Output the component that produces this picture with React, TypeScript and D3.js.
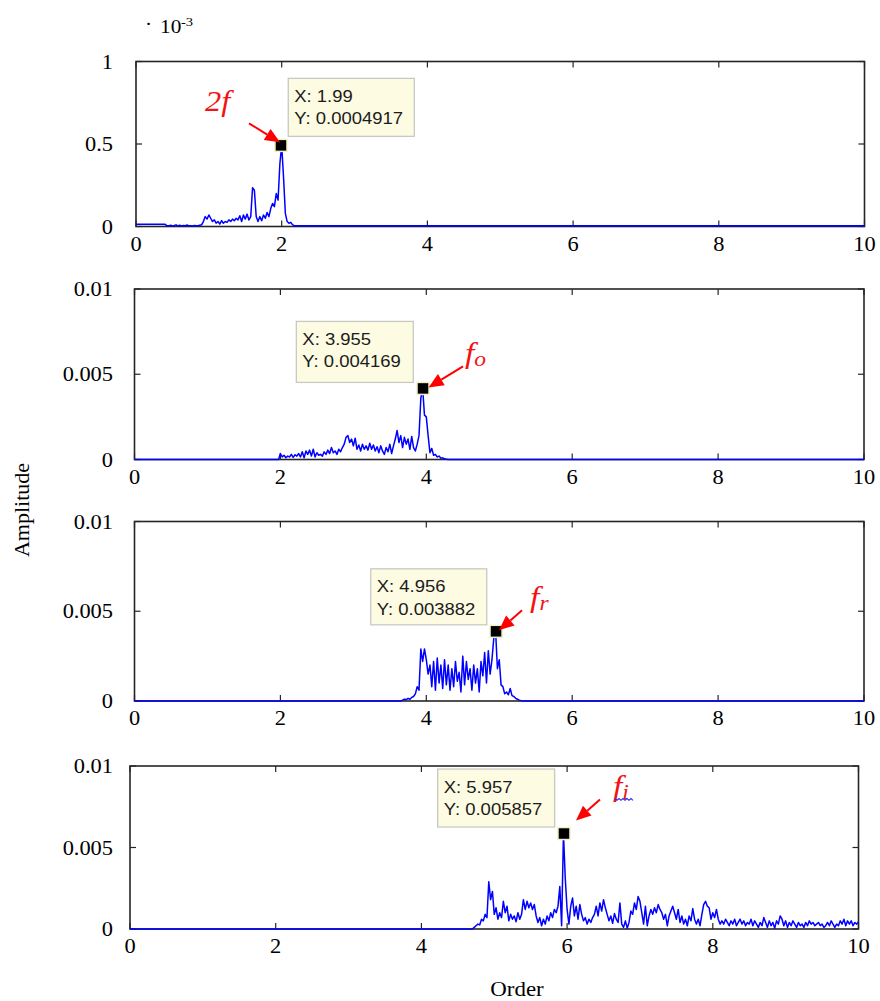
import React from "react";
import * as d3 from "d3";

// ---------------- data ----------------
const ORDER_STEP = 0.025;
const ORDER_MIN = 0;
const ORDER_MAX = 10;
const xTickValues = [0, 2, 4, 6, 8, 10];
const xTickLabels = ["0", "2", "4", "6", "8", "10"];
const yTickValuesTop = [0, 0.0005, 0.001];
const yTickLabelsTop = ["0", "0.5", "1"];
const yTickValues = [0, 0.005, 0.01];
const yTickLabels = ["0", "0.005", "0.01"];

// amplitudes below are in units of 1e-3, sampled every ORDER_STEP from the start order
const p1Start = 0.4;
const p1Edges = [0.013, 0.005];
const p1Amp = [
  0.013, 0.004, 0.004, 0.008, 0.003, 0.006, 0.01, 0.004,
  0.008, 0.003, 0.006, 0.004, 0.009, 0.004, 0.005, 0.003,
  0.006, 0.004, 0.005, 0.008, 0.01, 0.03, 0.06, 0.045,
  0.07, 0.05, 0.03, 0.04, 0.02, 0.03, 0.015, 0.035,
  0.02, 0.03, 0.025, 0.04, 0.03, 0.045, 0.035, 0.05,
  0.04, 0.065, 0.03, 0.07, 0.045, 0.075, 0.04, 0.06,
  0.235, 0.22, 0.06, 0.03, 0.06, 0.035, 0.07, 0.05,
  0.085, 0.06, 0.11, 0.14, 0.12, 0.2, 0.16, 0.38,
  0.4917, 0.3, 0.08, 0.03, 0.02, 0.025, 0.01, 0.005,
];

const p2Start = 2.0;
const p2Edges = [0, 0];
const p2Amp = [
  0.35, 0.15, 0.25, 0.1, 0.2, 0.15, 0.3, 0.12,
  0.28, 0.2, 0.35, 0.15, 0.45, 0.1, 0.5, 0.3,
  0.55, 0.2, 0.6, 0.15, 0.4, 0.25, 0.3, 0.2,
  0.45, 0.3, 0.55, 0.35, 0.7, 0.4, 0.5, 0.3,
  0.6, 0.45, 0.7, 0.9, 1.3, 1.4, 1.0, 1.2,
  0.8, 1.25, 0.6, 0.85, 0.5, 0.9, 0.6, 0.8,
  0.55, 0.95, 0.6, 0.85, 0.5, 0.75, 0.4, 0.8,
  0.5, 0.3, 0.7, 0.45, 0.9, 0.35, 0.8, 1.2,
  1.7, 1.0, 1.4, 0.7, 1.3, 0.9, 1.2, 0.6,
  1.35, 0.7, 0.5, 0.9, 1.4, 3.6, 4.169, 2.6,
  2.5, 1.4, 0.4, 0.65, 0.25, 0.3, 0.15, 0.2,
  0.08, 0.1, 0.04, 0.02, 0,
];

const p3Start = 3.65;
const p3Edges = [0, 0];
const p3Amp = [
  0, 0.05, 0.1, 0.08, 0.15, 0.1, 0.2, 0.25,
  0.4, 0.8, 0.6, 2.9, 2.2, 2.9, 2.3, 1.5,
  2.0, 0.8, 2.2, 0.6, 2.4, 1.0, 2.0, 0.7,
  2.3, 0.9, 2.0, 0.6, 1.8, 0.8, 2.2, 1.1,
  1.6, 0.5, 2.5, 0.9, 2.2, 1.2, 1.8, 0.6,
  2.0, 1.0, 1.8, 0.5, 2.2, 1.4, 2.7, 1.0,
  2.8, 1.5, 2.3, 3.5, 3.882, 1.8, 2.3, 0.9,
  0.8, 0.4, 0.5, 0.35, 0.7, 0.3, 0.25, 0.15,
  0.1, 0.05, 0.02, 0,
];

const p4Start = 4.7;
const p4Edges = [0, 0];
const p4Amp = [
  0, 0.1, 0.2, 0.3, 0.25, 0.6, 0.5, 0.9,
  0.7, 2.9, 1.8, 2.3, 0.9, 1.3, 0.6, 1.0,
  0.7, 1.7, 1.0, 1.4, 0.5, 0.9, 0.6, 0.8,
  0.45, 1.0, 0.6, 0.9, 1.8, 1.2, 1.7, 1.3,
  1.6, 1.2, 1.5, 0.8, 0.4, 0.7, 0.2, 0.6,
  0.3, 0.8, 0.5, 1.0, 0.7, 1.2, 1.0, 1.4,
  2.6, 0.2, 5.857, 3.1, 1.2, 0.3, 1.4, 1.9,
  0.8, 1.4, 0.6, 1.5, 0.9, 0.5, 0.7, 0.3,
  0.6, 0.4, 0.7, 0.9, 1.4, 0.8, 1.6, 1.1,
  1.8, 1.3, 0.9, 0.5, 0.8, 0.35, 0.95, 0.6,
  0.4, 1.6, 0.3, 0.1, 0.5, 0.05, 0.4, 1.1,
  0.9, 1.6, 1.2, 2.0, 1.7, 1.0, 0.3, 1.4,
  0.2, 0.8, 1.2, 0.9, 1.3, 1.0, 1.5, 1.2,
  1.0, 0.6, 0.9, 0.2, 0.8, 1.1, 1.4, 1.0,
  0.6, 1.2, 0.4, 0.8, 0.3, 0.6, 0.2, 0.8,
  0.5, 1.25, 0.6, 0.3, 0.6, 0.2, 0.9, 1.5,
  1.7, 1.4, 1.3, 0.6, 1.0, 0.7, 1.2, 0.6,
  0.3, 0.5, 0.3, 0.6, 0.4, 0.2, 0.5, 0.3,
  0.6, 0.2, 0.4, 0.6, 0.3, 0.5, 0.2, 0.4,
  0.3, 0.6, 0.2, 0.5, 0.3, 0.1, 0.4, 0.2,
  0.7, 0.4, 0.1, 0.5, 0.2, 0.4, 0.05, 0.5,
  0.3, 0.8, 0.6, 0.2, 0.5, 0.1, 0.4, 0.2,
  0.5, 0.3, 0.1, 0.4, 0.2, 0.3, 0.1, 0.4,
  0.2, 0.5, 0.3, 0.4, 0.2, 0.3, 0.4, 0.2,
  0.3, 0.1, 0.2, 0.4, 0.2, 0.5, 0.3, 0.1,
  0.3, 0.2, 0.5, 0.3, 0.6, 0.2, 0.5, 0.3,
  0.5, 0.2, 0.4, 0.3, 0.45,
];

const peakOrder = [1.99, 3.955, 4.956, 5.957];
const peakAmp = [0.0004917, 0.004169, 0.003882, 0.005857];
const peakName = ["2f", "f", "f", "f"];
const peakSub = ["", "o", "r", "i"];

// ---------------- layout ----------------
const W = 880;
const H = 1001;
const SERIF = "'Liberation Serif', 'Times New Roman', serif";
const SANS = "'Liberation Sans', Arial, sans-serif";
const SX = 1.12; // horizontal stretch of the scanned figure text

const frames = [
  { l: 136, r: 864.5, t: 61.5, b: 226.5 },
  { l: 134.5, r: 864, t: 289, b: 459.5 },
  { l: 134.5, r: 864, t: 521.5, b: 701 },
  { l: 130, r: 858.5, t: 766, b: 929 },
];

const tipLayout = [
  { dx: 7.3, dy: -67, w: 126, h: 58 },
  { dx: -126.7, dy: -67, w: 117, h: 61 },
  { dx: -125.3, dy: -62.5, w: 116, h: 56 },
  { dx: -126.3, dy: -64.5, w: 117, h: 58 },
];

const arrowLayout = [
  { x1: -32, y1: -22, x2: -1, y2: -3, lx: -76, ly: -34.5 },
  { x1: 40, y1: -22, x2: 5.5, y2: -1, lx: 42, ly: -25 },
  { x1: 26, y1: -21, x2: 3, y2: -1, lx: 34, ly: -24 },
  { x1: 36, y1: -34, x2: 12, y2: -13, lx: 49, ly: -38 },
];

const seriesDefs = [
  { start: p1Start, amps: p1Amp, edges: p1Edges },
  { start: p2Start, amps: p2Amp, edges: p2Edges },
  { start: p3Start, amps: p3Amp, edges: p3Edges },
  { start: p4Start, amps: p4Amp, edges: p4Edges },
];

function buildSeries(start: number, amps: number[], edges: number[]): [number, number][] {
  const pts: [number, number][] = [];
  pts.push([ORDER_MIN, edges[0] * 1e-3]);
  if (start - ORDER_STEP > ORDER_MIN) pts.push([start - ORDER_STEP, edges[0] * 1e-3]);
  amps.forEach((a, i) => {
    const o = start + i * ORDER_STEP;
    if (o <= ORDER_MAX + 1e-9) pts.push([o, a * 1e-3]);
  });
  const end = start + amps.length * ORDER_STEP;
  if (end < ORDER_MAX) {
    pts.push([end, edges[1] * 1e-3]);
    pts.push([ORDER_MAX, edges[1] * 1e-3]);
  }
  return pts;
}

function T(props: any) {
  const { x, y, size, anchor = "start", family = SERIF, fill = "#000", italic = false, rotate = 0, sx = SX, children } = props;
  const tr = `translate(${x},${y})${rotate ? ` rotate(${rotate})` : ""} scale(${sx},1)`;
  return (
    <text
      transform={tr}
      fontSize={size}
      fontFamily={family}
      fill={fill}
      textAnchor={anchor}
      fontStyle={italic ? "italic" : "normal"}
    >
      {children}
    </text>
  );
}

function Panel({ idx }: { idx: number }) {
  const f = frames[idx];
  const x = d3.scaleLinear().domain([ORDER_MIN, ORDER_MAX]).range([f.l, f.r]);
  const isTop = idx === 0;
  const y = d3
    .scaleLinear()
    .domain([0, isTop ? 0.001 : 0.01])
    .range([f.b, f.t]);
  const yVals = isTop ? yTickValuesTop : yTickValues;
  const yLabs = isTop ? yTickLabelsTop : yTickLabels;
  const def = seriesDefs[idx];
  const pts = buildSeries(def.start, def.amps, def.edges);
  const line = d3
    .line<[number, number]>()
    .x((d) => x(d[0]))
    .y((d) => y(d[1]));
  const tick = 6;
  const axisColor = "#262626";

  const mx = x(peakOrder[idx]);
  const my = y(peakAmp[idx]);
  const tl = tipLayout[idx];
  const bx = mx + tl.dx;
  const by = my + tl.dy;
  const al = arrowLayout[idx];
  const ax1 = mx + al.x1, ay1 = my + al.y1, ax2 = mx + al.x2, ay2 = my + al.y2;
  const ddx = ax2 - ax1, ddy = ay2 - ay1;
  const len = Math.hypot(ddx, ddy);
  const ux = ddx / len, uy = ddy / len;
  const hl = 15, hw = 6.5;
  const baseX = ax2 - ux * hl, baseY = ay2 - uy * hl;
  const head = [
    [ax2, ay2],
    [baseX - uy * hw, baseY + ux * hw],
    [baseX + uy * hw, baseY - ux * hw],
  ]
    .map((p) => p.join(","))
    .join(" ");
  const lx = mx + al.lx;
  const ly = my + al.ly;

  let squiggle = "";
  if (peakSub[idx] === "i") {
    const s0 = lx + 2, s1 = lx + 21, sy = ly + 3;
    const parts: string[] = [];
    for (let k = 0; s0 + k * 2 <= s1; k++) {
      parts.push(`${k === 0 ? "M" : "L"}${s0 + k * 2},${sy + (k % 2 === 0 ? 0 : 1.8)}`);
    }
    squiggle = parts.join(" ");
  }

  return (
    <g>
      <rect x={f.l} y={f.t} width={f.r - f.l} height={f.b - f.t} fill="#fff" />
      {xTickValues.map((v) => (
        <g key={"xt" + v}>
          <line x1={x(v)} x2={x(v)} y1={f.b} y2={f.b - tick} stroke={axisColor} strokeWidth={1.2} />
          <line x1={x(v)} x2={x(v)} y1={f.t} y2={f.t + tick} stroke={axisColor} strokeWidth={1.2} />
        </g>
      ))}
      {yVals.map((v) => (
        <g key={"yt" + v}>
          <line x1={f.l} x2={f.l + tick} y1={y(v)} y2={y(v)} stroke={axisColor} strokeWidth={1.2} />
          <line x1={f.r} x2={f.r - tick} y1={y(v)} y2={y(v)} stroke={axisColor} strokeWidth={1.2} />
        </g>
      ))}
      <rect x={f.l} y={f.t} width={f.r - f.l} height={f.b - f.t} fill="none" stroke={axisColor} strokeWidth={1.6} />
      <path d={line(pts) || ""} fill="none" stroke="#0000ff" strokeWidth={1.5} strokeLinejoin="round" />
      {/* tick labels */}
      {xTickValues.map((v, i) => (
        <T key={"xl" + v} x={x(v)} y={f.b + 24} size={20} anchor="middle">
          {xTickLabels[i]}
        </T>
      ))}
      {yVals.map((v, i) => (
        <T key={"yl" + v} x={113} y={y(v) + 7} size={20} anchor="end">
          {yLabs[i]}
        </T>
      ))}
      {/* data tip */}
      <rect x={bx} y={by} width={tl.w} height={tl.h} fill="#fdfbe2" stroke="#c9c9c4" strokeWidth={1.3} />
      <T x={bx + 6} y={by + 23.5} size={16.5} family={SANS} fill="#1c1c1c">
        {`X: ${peakOrder[idx]}`}
      </T>
      <T x={bx + 6} y={by + 46} size={16.5} family={SANS} fill="#1c1c1c">
        {`Y: ${peakAmp[idx]}`}
      </T>
      <rect x={mx - 6} y={my - 6} width={12} height={12} fill="#000" stroke="#f3efc6" strokeWidth={1.5} />
      {/* arrow */}
      <line x1={ax1} y1={ay1} x2={baseX} y2={baseY} stroke="#ff0000" strokeWidth={2} />
      <polygon points={head} fill="#ff0000" />
      {/* label */}
      <T x={lx} y={ly} size={isTop ? 29 : 30} family={SERIF} italic fill="#f01414">
        {peakName[idx]}
        {peakSub[idx] ? (
          <tspan fontSize={21} dy={3}>
            {peakSub[idx]}
          </tspan>
        ) : null}
      </T>
      {squiggle ? <path d={squiggle} fill="none" stroke="#2a2aff" strokeWidth={1.1} /> : null}
    </g>
  );
}

export default function App() {
  return (
    <svg width={W} height={H} style={{ display: "block", position: "absolute", left: 0, top: 0 }}>
      <rect x={0} y={0} width={W} height={H} fill="#fff" />
      <T x={145} y={30} size={19}>·</T>
      <T x={160} y={33} size={19}>10</T>
      <T x={181} y={26} size={13}>-3</T>
      {frames.map((_, i) => (
        <Panel key={i} idx={i} />
      ))}
      <T x={29} y={510} size={22} anchor="middle" rotate={-90} sx={1}>
        Amplitude
      </T>
      <T x={517} y={996} size={20.5} anchor="middle">
        Order
      </T>
    </svg>
  );
}
